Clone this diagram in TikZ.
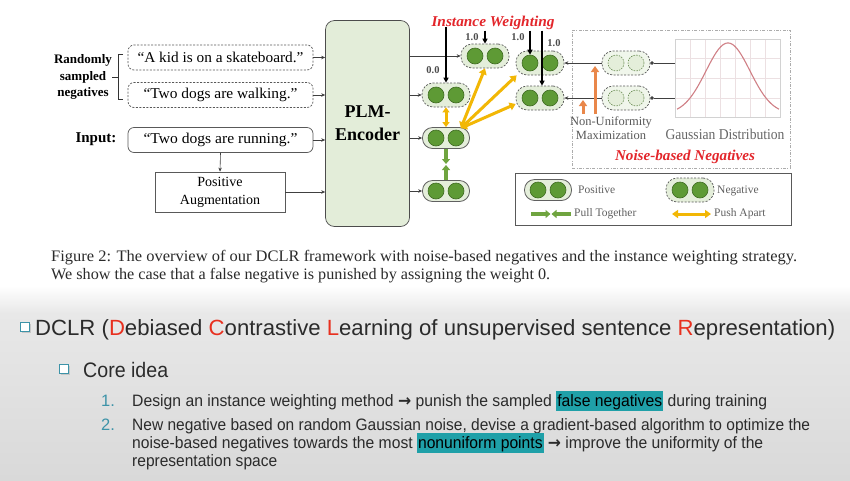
\documentclass[tikz,border=0pt]{standalone}
\usepackage{fontspec}
\usepackage{graphicx}
\setmainfont{Liberation Serif}
\newfontfamily\slidefont{Liberation Sans}
\newfontfamily\arrowfont{DejaVu Sans}
\usetikzlibrary{arrows.meta,calc}
\definecolor{encfill}{HTML}{E3EDD9}
\definecolor{pairfill}{HTML}{E4EEDA}
\definecolor{dotgreen}{HTML}{5E9A35}
\definecolor{dotedge}{HTML}{3F6B22}
\definecolor{pushy}{HTML}{F2B705}
\definecolor{pullg}{HTML}{6FA43F}
\definecolor{orangeA}{HTML}{E9874A}
\definecolor{redT}{HTML}{E3262B}
\definecolor{txt}{HTML}{2B2B2B}
\definecolor{hlteal}{HTML}{1FA0A8}
\definecolor{numteal}{HTML}{3D93A8}
\definecolor{slideRed}{HTML}{E8301F}
\definecolor{gcurve}{HTML}{D08086}
\definecolor{gridc}{HTML}{ECE0E2}
\definecolor{slideA}{HTML}{E8E8E8}
\definecolor{slideB}{HTML}{D9D9D9}
\newsavebox\fitbox
\newcommand\fitx[2]{\sbox\fitbox{#2}\edef\fitf{\fpeval{(#1)/(\the\wd\fitbox)}}\scalebox{\fitf}[1]{\usebox\fitbox}}
\newcommand\hlt[1]{{\fboxsep=1pt\colorbox{hlteal}{\rule[-4pt]{0pt}{18pt}\textcolor{black}{#1}}}}
\newcommand\rarr{{\arrowfont\bfseries →}}
\newcommand\pairnode[4]{%
  \node[#1] (#3) at (#4) {};
  \node[#2] (#3l) at ($(#3.center)+(-10,0)$) {};
  \node[#2] (#3r) at ($(#3.center)+(10,0)$) {};}
\begin{document}
\begin{tikzpicture}[x=1pt,y=-1pt,
  dbox/.style={draw=gray!70!black, dash pattern=on 2pt off 1.5pt, line width=0.7pt, rounded corners=6pt, minimum width=185pt, minimum height=25pt, inner sep=0pt, font=\fontsize{15}{18}\selectfont},
  sbox/.style={dbox, solid},
  augbox/.style={draw=gray!70!black, line width=0.8pt, minimum width=130pt, minimum height=40pt, inner sep=0pt, align=center, font=\fontsize{14}{18}\selectfont},
  encbox/.style={draw=gray!60!black, line width=0.7pt, fill=encfill, rounded corners=9pt, minimum width=84pt, minimum height=206pt, align=center, font=\bfseries\fontsize{18}{23}\selectfont},
  poscap/.style={rectangle, rounded corners=10pt, minimum width=47pt, minimum height=21pt, draw=gray!75!black, fill=pairfill, line width=0.8pt, inner sep=0pt},
  negcap/.style={rectangle, rounded corners=11pt, minimum width=48pt, minimum height=24pt, draw=gray!70!black, dash pattern=on 2pt off 1.5pt, fill=pairfill, line width=0.7pt, inner sep=0pt},
  noisecap/.style={negcap, fill=pairfill!55},
  gdot/.style={circle, minimum size=16pt, inner sep=0pt, fill=dotgreen, draw=dotedge, line width=0.6pt},
  hdot/.style={circle, minimum size=16pt, inner sep=0pt, fill=pairfill, draw=dotedge!80, dash pattern=on 1.5pt off 1.2pt, line width=0.6pt},
  conn/.style={draw=black!75, line width=0.6pt, -{Stealth[length=4pt,width=3.5pt]}},
  dotconn/.style={draw=black!75, line width=0.6pt, -{Circle[length=3.5pt]}},
  warr/.style={draw=black, line width=1.5pt, -{Triangle[length=5pt,width=5pt]}},
  push/.style={draw=pushy, line width=3pt, {Triangle[length=6pt,width=8pt]}-{Triangle[length=6pt,width=8pt]}},
  pull/.style={draw=pullg, line width=3.5pt, -{Triangle[length=5pt,width=8pt]}},
  nua/.style={draw=orangeA, line width=3pt, -{Triangle[length=6pt,width=8pt]}},
  wlab/.style={font=\bfseries\fontsize{10.5}{12}\selectfont, text=gray!60!black, inner sep=0pt},
  legt/.style={font=\fontsize{11.5}{14}\selectfont, text=gray!75!black, inner sep=0pt},
  redlab/.style={font=\bfseries\itshape\fontsize{15}{18}\selectfont, text=redT, inner sep=0pt},
  captext/.style={anchor=base west, inner sep=0pt, font=\fontsize{16}{18}\selectfont, text=txt},
  slidetext/.style={anchor=base west, inner sep=0pt, text=txt},
  bul/.style={rectangle, draw=numteal, line width=1.3pt, fill=white, minimum size=8.5pt, inner sep=0pt},
  bulsh/.style={rectangle, fill=gray!45, minimum size=9pt, inner sep=0pt}
]
\useasboundingbox (0,0) rectangle (850,480);
\fill[white] (0,0) rectangle (850,480);
\shade[top color=white, bottom color=slideA] (0,286) rectangle (850,313);
\shade[top color=slideA, bottom color=slideB] (0,313) rectangle (850,480);

% left labels
\node[font=\bfseries\fontsize{13}{16.5}\selectfont, align=center, inner sep=0pt] (rsn) at (83,77) {Randomly\\sampled\\negatives};
\draw[gray!40!black, line width=0.7pt] (123,54) -- (118,54) -- (118,99) -- (123,99) (118,77) -- (112,77);
\node[font=\bfseries\fontsize{15}{18}\selectfont, inner sep=0pt] (inp) at (96,139) {Input:};

% sentence boxes
\node[dbox] (s1) at (220.5,57.5) {\fitx{166pt}{“A kid is on a skateboard.”}};
\node[dbox] (s2) at (220.5,95) {\fitx{154pt}{“Two dogs are walking.”}};
\node[sbox] (s3) at (220.5,140) {\fitx{154pt}{“Two dogs are running.”}};
\node[augbox] (aug) at (220,192) {Positive\\Augmentation};

% encoder
\node[encbox] (enc) at (367.5,123.5) {PLM-\\Encoder};

\draw[conn] (s1.east) -- (s1.east -| enc.west);
\draw[conn] (s2.east) -- (s2.east -| enc.west);
\draw[conn] (s3.east) -- (s3.east -| enc.west);
\draw[conn] (s3.south) -- (aug.north);
\draw[conn] (aug.east) -- (aug.east -| enc.west);

% representation pairs
\pairnode{negcap}{gdot}{n1}{485,56}
\pairnode{negcap}{gdot}{n2}{446,95}
\pairnode{poscap}{gdot}{pa}{446,138}
\pairnode{poscap}{gdot}{pb}{446,191}
\pairnode{negcap}{gdot}{n3}{540,63}
\pairnode{negcap}{gdot}{n4}{540,98}

\draw[conn] (enc.east |- n1.west) -- (n1.west);
\draw[conn] (enc.east |- n2.west) -- (n2.west);
\draw[conn] (enc.east |- pa.west) -- (pa.west);
\draw[conn] (enc.east |- pb.west) -- (pb.west);

% push apart
\coordinate (po) at ($(pa.north east)+(-9,1)$);
\draw[push] (po) -- (n1.south);
\draw[push] (po) -- ($(n3.south west)+(1,0)$);
\draw[push] (po) -- ($(n4.west)+(0,6)$);
\draw[draw=pushy, line width=3pt, {Triangle[length=5pt,width=7pt]}-{Triangle[length=5pt,width=7pt]}] (n2.south) -- (pa.north);

% pull together
\coordinate (pm) at ($(pa.south)!0.5!(pb.north)$);
\draw[pull] (pa.south) -- ($(pm)+(0,-0.5)$);
\draw[pull] (pb.north) -- ($(pm)+(0,0.5)$);

% instance weighting
\node[redlab] (iw) at (493,23) {\fitx{123pt}{Instance Weighting}};
\draw[warr] ($(n2.north)+(0,-56)$) -- (n2.north);
\node[wlab] (w0) at (433,70) {0.0};
\draw[warr] ($(n1.north)+(0,-13)$) -- (n1.north);
\node[wlab] (w1) at (472,37) {1.0};
\draw[warr] ($(n3l.north)+(0,-24)$) -- (n3l.north);
\node[wlab] (w2) at (518,37) {1.0};
\draw[warr] ($(n4.north)+(2,-55)$) -- ($(n4.north)+(2,0)$);
\node[wlab] (w3) at (554,43) {1.0};

% noise-based negatives
\node[draw=gray!65, dash pattern=on 3pt off 1.5pt on 0.8pt off 1.5pt, line width=0.8pt, minimum width=218pt, minimum height=138pt, inner sep=0pt] (nb) at (681,99) {};
\pairnode{noisecap}{hdot}{z1}{626,63}
\pairnode{noisecap}{hdot}{z2}{626,98}
\draw[conn] (z1.west) -- (n3.east);
\draw[conn] (z2.west) -- (n4.east);

\node[draw=gray!35, line width=0.5pt, minimum width=105pt, minimum height=78pt, inner sep=0pt] (gp) at (727.5,78) {};
\foreach \gx in {690,705,...,765} \draw[gridc, line width=0.5pt] (\gx,39.5) -- (\gx,116.5);
\foreach \gy in {58,78,98} \draw[gridc, line width=0.5pt] (675.5,\gy) -- (779.5,\gy);
\draw[gcurve, line width=1.1pt] plot[domain=677:779, samples=90, smooth] (\x,{114-71*exp(-0.5*((\x-728)/22)^2)});
\draw[dotconn] (gp.west |- z1.east) -- (z1.east);
\draw[dotconn] (gp.west |- z2.east) -- (z2.east);

\draw[nua] (595,114) -- (595,66);
\draw[nua] (583,114) -- (583,100);
\node[font=\fontsize{12.5}{14}\selectfont, text=gray!70!black, align=center, inner sep=0pt] (nu) at (611,128) {Non-Uniformity\\Maximization};
\node[font=\fontsize{15}{18}\selectfont, text=gray!80!black, inner sep=0pt] (gd) at (725,134) {\fitx{119pt}{Gaussian Distribution}};
\node[redlab] (nbn) at (685,157) {\fitx{140pt}{Noise-based Negatives}};

% legend
\node[draw=gray!70!black, line width=0.9pt, minimum width=276pt, minimum height=52pt, inner sep=0pt] (lg) at (653,199) {};
\pairnode{poscap}{gdot}{lp}{548,190}
\node[legt, anchor=west] (lpt) at (578,190) {Positive};
\pairnode{negcap}{gdot}{ln}{690,190}
\node[legt, anchor=west] (lnt) at (717,191) {Negative};
\coordinate (pl1) at (531,214);
\coordinate (pl2) at (571,214);
\coordinate (plm) at ($(pl1)!0.5!(pl2)$);
\draw[pull] (pl1) -- ($(plm)+(-0.5,0)$);
\draw[pull] (pl2) -- ($(plm)+(0.5,0)$);
\node[legt, anchor=west] (plt) at (574,214) {Pull Together};
\coordinate (ps1) at (672,214);
\coordinate (ps2) at (711,214);
\draw[push] (ps1) -- (ps2);
\node[legt, anchor=west] (pst) at (714,214) {Push Apart};

% caption
\node[captext] (cap1) at (51,261) {\fitx{746pt}{Figure 2: The overview of our DCLR framework with noise-based negatives and the instance weighting strategy.}};
\node[captext] (cap2) at (51,279) {\fitx{499pt}{We show the case that a false negative is punished by assigning the weight 0.}};

% slide text
\node[bulsh] (b1s) at (26.5,328.5) {};
\node[bul] (b1) at (25,327) {};
\node[slidetext, font=\slidefont\fontsize{22}{26}\selectfont] (t1) at (35,335) {\fitx{800pt}{DCLR (\textcolor{slideRed}{D}ebiased \textcolor{slideRed}{C}ontrastive \textcolor{slideRed}{L}earning of unsupervised sentence \textcolor{slideRed}{R}epresentation)}};
\node[bulsh] (b2s) at (65.5,370.5) {};
\node[bul] (b2) at (64,369) {};
\node[slidetext, font=\slidefont\fontsize{21}{24}\selectfont] (t2) at (83,377) {\fitx{85pt}{Core idea}};
\node[slidetext, text=numteal, font=\slidefont\fontsize{16.5}{18}\selectfont] (k1) at (101,406) {1.};
\node[slidetext, font=\slidefont\fontsize{16.5}{18}\selectfont] (i1) at (132,406) {\fitx{635pt}{Design an instance weighting method \rarr{} punish the sampled \hlt{false negatives} during training}};
\node[slidetext, text=numteal, font=\slidefont\fontsize{16.5}{18}\selectfont] (k2) at (101,430) {2.};
\node[slidetext, font=\slidefont\fontsize{16.5}{18}\selectfont] (i2a) at (132,430) {\fitx{678pt}{New negative based on random Gaussian noise, devise a gradient-based algorithm to optimize the}};
\node[slidetext, font=\slidefont\fontsize{16.5}{18}\selectfont] (i2b) at (132,448) {\fitx{631pt}{noise-based negatives towards the most \hlt{nonuniform points} \rarr{} improve the uniformity of the}};
\node[slidetext, font=\slidefont\fontsize{16.5}{18}\selectfont] (i2c) at (132,466) {\fitx{145pt}{representation space}};
\end{tikzpicture}
\end{document}
